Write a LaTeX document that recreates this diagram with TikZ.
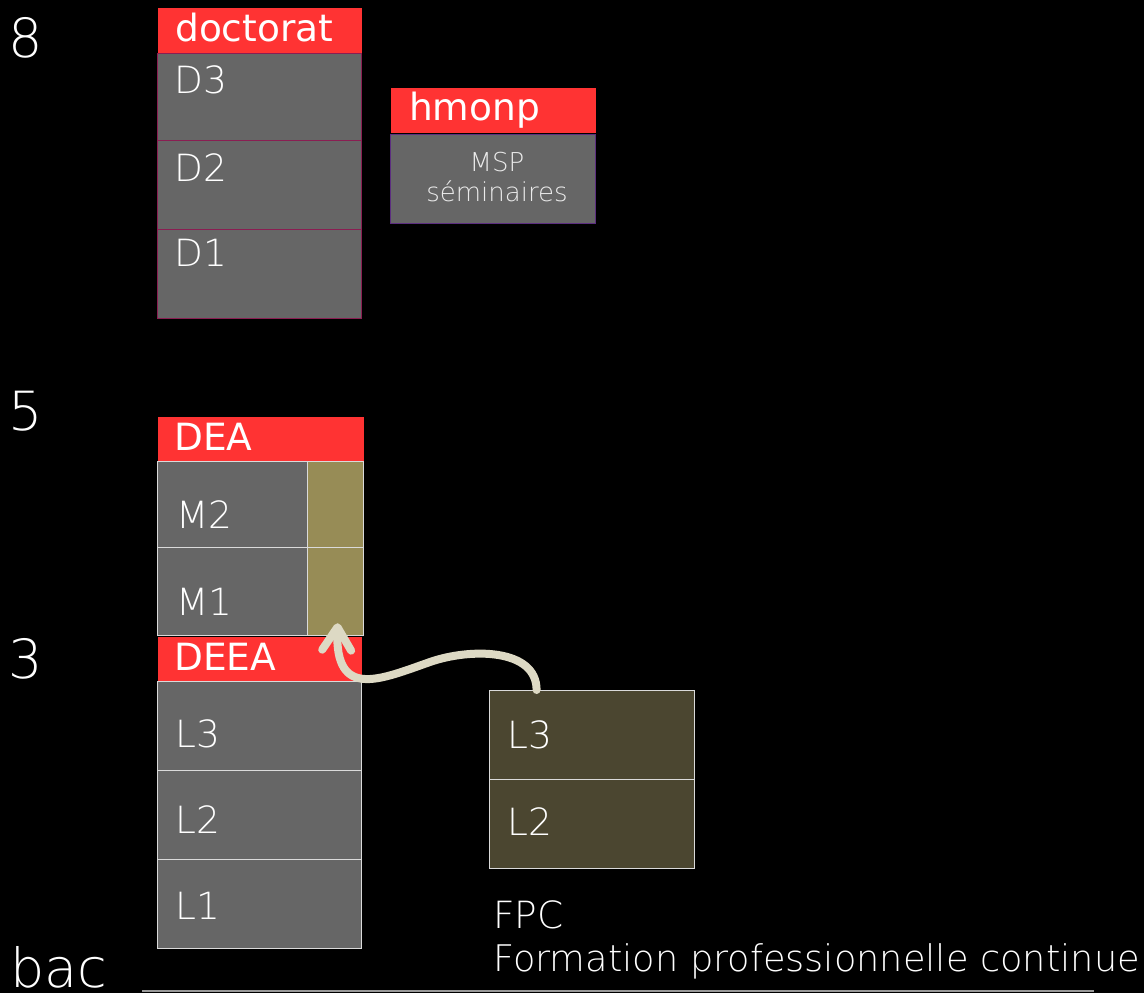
\documentclass[tikz,border=0pt]{standalone}
\usepackage{fontspec}
\setmainfont{DejaVu Sans ExtraLight}
\newfontfamily\bookfont{DejaVu Sans}
\usetikzlibrary{arrows.meta}
\definecolor{hdred}{HTML}{FF3333}
\definecolor{cellgray}{HTML}{666666}
\definecolor{cellolive}{HTML}{978C56}
\definecolor{fpcbrown}{HTML}{4B4630}
\definecolor{plumline}{HTML}{8A1E52}
\definecolor{violetline}{HTML}{5C2E80}
\definecolor{paleline}{HTML}{DADADA}
\definecolor{trailcream}{HTML}{DDD9C4}
\tikzset{
	cell/.style={anchor=north west, inner sep=0, line width=1.2pt},
	hdcell/.style={cell, fill=hdred, draw=none},
	dcell/.style={cell, fill=cellgray, draw=plumline},
	lcell/.style={cell, fill=cellgray, draw=paleline},
	ocell/.style={cell, fill=cellolive, draw=paleline},
	fcell/.style={cell, fill=fpcbrown, draw=paleline},
	hdtext/.style={anchor=base west, inner sep=0, text=white, font=\bookfont\fontsize{37.5}{40}\selectfont},
	celltext/.style={anchor=base west, inner sep=0, text=white, font=\fontsize{37.5}{40}\selectfont},
	leveltext/.style={anchor=base west, inner sep=0, text=white, font=\fontsize{54}{56}\selectfont},
	trail/.style={line width=8pt, draw=trailcream, line cap=round, -{Straight Barb[length=23pt, width=29pt, round]}}
}

\begin{document}
\begin{tikzpicture}[x=1pt, y=-1pt]
			%%%%% START %%%%%
			\fill[black] (0,0) rectangle (1144,993);
			\useasboundingbox (0,0) rectangle (1144,993);
			
			\node[leveltext] (lev8) at (8, 57) {8};
			\node[leveltext] (lev5) at (8, 430) {5};
			\node[leveltext] (lev3) at (8, 678) {3};
			\node[leveltext] (levbac) at (10, 987) {bac};
			
			\node[hdcell, minimum width=204, minimum height=46] (doc) at (157, 7) {};
			\node[hdtext] (doct) at (175, 41.7) {doctorat};
			\node[dcell, minimum width=204, minimum height=87] (d3) at (157, 53) {};
			\node[celltext] (d3t) at (174, 93) {D3};
			\node[dcell, minimum width=204, minimum height=89] (d2) at (157, 140) {};
			\node[celltext] (d2t) at (174, 181.7) {D2};
			\node[dcell, minimum width=204, minimum height=89] (d1) at (157, 229) {};
			\node[celltext] (d1t) at (174, 266.7) {D1};
			
			\node[hdcell, minimum width=205, minimum height=45] (hmonp) at (390, 87) {};
			\node[hdtext] (hmonpt) at (409, 120.7) {hmonp};
			\node[cell, fill=cellgray, draw=violetline, minimum width=205, minimum height=89] (msp) at (390, 134) {};
			\node[anchor=base, inner sep=0, text=white!92!black, font=\fontsize{26}{28}\selectfont] (mspt) at (497, 171) {MSP};
			\node[anchor=base, inner sep=0, text=white!92!black, font=\fontsize{26}{28}\selectfont] (semt) at (497, 201.7) {séminaires};
			
			\node[hdcell, minimum width=206, minimum height=45] (dea) at (157, 416) {};
			\node[hdtext] (deat) at (174, 450) {DEA};
			\node[lcell, minimum width=150, minimum height=86] (m2) at (157, 461) {};
			\node[ocell, minimum width=56, minimum height=86] (m2o) at (307, 461) {};
			\node[celltext] (m2t) at (176, 528.3) {M2};
			\node[lcell, minimum width=150, minimum height=88] (m1) at (157, 547) {};
			\node[ocell, minimum width=56, minimum height=88] (m1o) at (307, 547) {};
			\node[celltext] (m1t) at (176, 615) {M1};
			
			\node[hdcell, minimum width=204, minimum height=45] (deea) at (157, 636) {};
			\node[hdtext] (deeat) at (174, 670) {DEEA};
			\node[lcell, minimum width=204, minimum height=89] (l3) at (157, 681) {};
			\node[celltext] (l3t) at (175, 747) {L3};
			\node[lcell, minimum width=204, minimum height=89] (l2) at (157, 770) {};
			\node[celltext] (l2t) at (175, 833) {L2};
			\node[lcell, minimum width=204, minimum height=89] (l1) at (157, 859) {};
			\node[celltext] (l1t) at (175, 919) {L1};
			
			\node[fcell, minimum width=205, minimum height=89] (f3) at (489, 690) {};
			\node[celltext] (f3t) at (507, 748) {L3};
			\node[fcell, minimum width=205, minimum height=89] (f2) at (489, 779) {};
			\node[celltext] (f2t) at (507, 835) {L2};
			\node[celltext] (fpct) at (493, 928.3) {FPC};
			\node[celltext, font=\fontsize{36.7}{40}\selectfont] (fpclong) at (493, 971.7) {Formation professionnelle continue};
			
			\draw[line width=2pt, color=black!40!white] (142, 991) -- (1094, 991);
			
			\coordinate (trailstart) at ([xshift=-55.5pt]f3.north);
			\coordinate (trailend) at ([xshift=2pt, yshift=13pt]m1o.south);
			\draw[trail] (trailstart) .. controls +(0,-42) and (470,648) .. (430,662) .. controls (380,679.5) and (335,700) .. (trailend);
			
			%%%%% END %%%%%
\end{tikzpicture}
\end{document}
